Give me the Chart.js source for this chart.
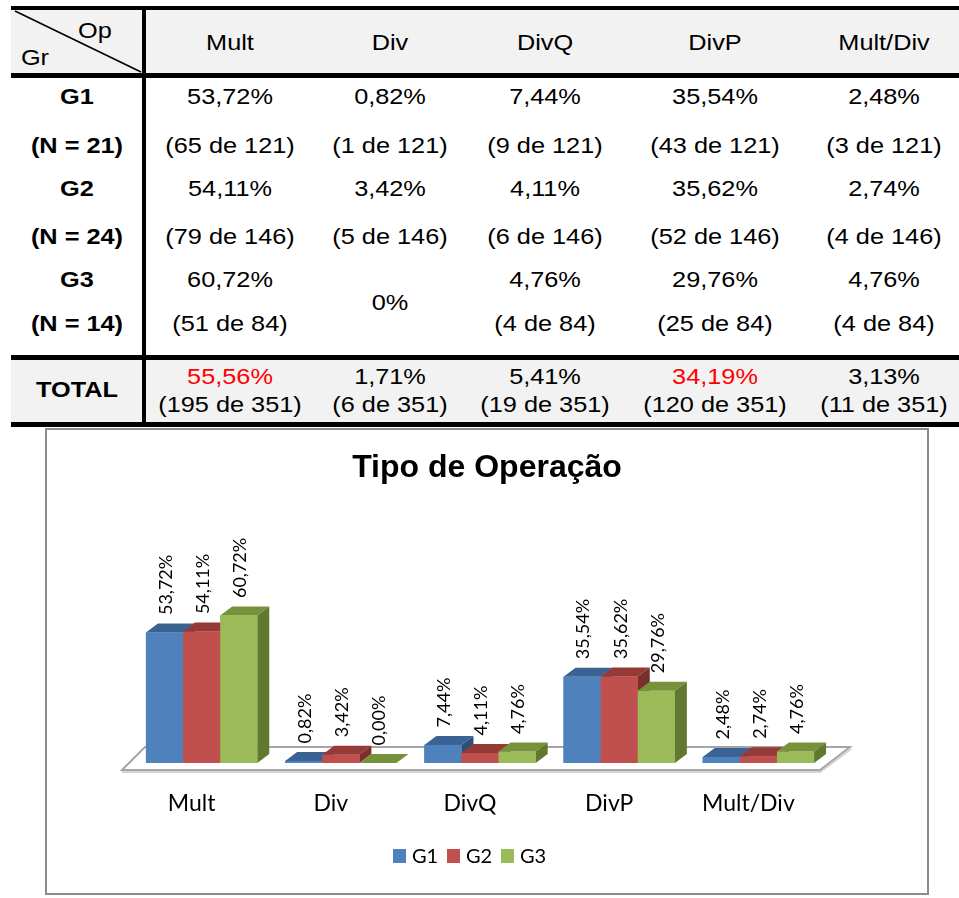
<!DOCTYPE html>
<html lang="pt">
<head>
<meta charset="utf-8">
<title>Tipo de Operação</title>
<script src="https://cdn.jsdelivr.net/npm/chart.js@4.4.1/dist/chart.umd.min.js"></script>
<style>
  html, body { margin: 0; padding: 0; background: #fff; }
  body { position: relative; width: 959px; height: 898px; overflow: hidden;
         font-family: "Liberation Sans", Arial, sans-serif; color: #000; }
  .rule { position: absolute; background: #000; }
  .band { position: absolute; background: #f2f2f2; }
  .cell { position: absolute; white-space: nowrap; font-size: 22px; line-height: 22px;
          transform: translate(-50%, -50%) scaleX(1.15); }
  .cell.b { font-weight: bold; }
  .cell.red { color: #ff0000; }
  #frame { position: absolute; left: 45px; top: 428px; width: 880px; height: 463px;
           border: 2px solid #8c8c8c; background: #fff; }
  #chart { display: block; }
  #diag { position: absolute; left: 0; top: 0; }
</style>
</head>
<body>
<div id="table"></div>
<div id="frame"><canvas id="chart" width="880" height="463"></canvas></div>
<script>
// Operation types and groups
const categories = ['Mult', 'Div', 'DivQ', 'DivP', 'Mult/Div'];
const groups = ['G1', 'G2', 'G3'];
const groupSizes = [21, 24, 14];

// Percentages per group (%)
const pctG1 = [53.72, 0.82, 7.44, 35.54, 2.48];
const pctG2 = [54.11, 3.42, 4.11, 35.62, 2.74];
const pctG3 = [60.72, 0.00, 4.76, 29.76, 4.76];

// Absolute counts per group and the number of answers in each group
const countG1 = [65, 1, 9, 43, 3];
const countG2 = [79, 5, 6, 52, 4];
const countG3 = [51, 0, 4, 25, 4];
const answersPerGroup = [121, 146, 84];

// Totals over all groups
const pctTotal = [55.56, 1.71, 5.41, 34.19, 3.13];
const countTotal = [195, 6, 19, 120, 11];
const answersTotal = 351;
const highlightedTotals = ['Mult', 'DivP'];

const pctSeries = [pctG1, pctG2, pctG3];
const countSeries = [countG1, countG2, countG3];

const fmtPct = v => v.toFixed(2).replace('.', ',') + '%';

/* ---------- summary table ---------- */
const tableEl = document.getElementById('table');
function box(cls, x, y, w, h) {
  const d = document.createElement('div');
  d.className = cls;
  Object.assign(d.style, { left: x + 'px', top: y + 'px', width: w + 'px', height: h + 'px' });
  tableEl.appendChild(d);
}
function cell(text, x, y, extra) {
  const d = document.createElement('div');
  d.className = 'cell' + (extra ? ' ' + extra : '');
  d.textContent = text;
  d.style.left = x + 'px';
  d.style.top = y + 'px';
  tableEl.appendChild(d);
}

const T_LEFT = 11, T_RIGHT = 959;
const colX = [230, 390, 545, 715, 884];
const firstColX = 77;
const rowLines = [[97, 146], [189, 237], [280, 324]];

box('band', T_LEFT, 10, T_RIGHT - T_LEFT, 63);
box('band', T_LEFT, 360, T_RIGHT - T_LEFT, 62);
box('rule', T_LEFT, 6, T_RIGHT - T_LEFT, 4);
box('rule', T_LEFT, 73, T_RIGHT - T_LEFT, 5);
box('rule', T_LEFT, 355, T_RIGHT - T_LEFT, 5);
box('rule', T_LEFT, 422, T_RIGHT - T_LEFT, 5);
box('rule', 142, 6, 4, 421);

const svgNS = 'http://www.w3.org/2000/svg';
const svg = document.createElementNS(svgNS, 'svg');
svg.setAttribute('id', 'diag');
svg.setAttribute('width', '160');
svg.setAttribute('height', '80');
const ln = document.createElementNS(svgNS, 'line');
ln.setAttribute('x1', '15'); ln.setAttribute('y1', '11');
ln.setAttribute('x2', '141'); ln.setAttribute('y2', '72');
ln.setAttribute('stroke', '#000'); ln.setAttribute('stroke-width', '1.6');
svg.appendChild(ln);
tableEl.appendChild(svg);

cell('Op', 95, 31);
cell('Gr', 35, 58);
categories.forEach((c, i) => cell(c, colX[i], 43));

groups.forEach((g, gi) => {
  const [y1, y2] = rowLines[gi];
  cell(g, firstColX, y1, 'b');
  cell('(N = ' + groupSizes[gi] + ')', firstColX, y2, 'b');
  categories.forEach((c, ci) => {
    const cnt = countSeries[gi][ci];
    if (cnt === 0) {
      cell('0%', colX[ci], (y1 + y2) / 2 + 1);
    } else {
      cell(fmtPct(pctSeries[gi][ci]), colX[ci], y1);
      cell('(' + cnt + ' de ' + answersPerGroup[gi] + ')', colX[ci], y2);
    }
  });
});

cell('TOTAL', firstColX, 390, 'b');
categories.forEach((c, ci) => {
  const red = highlightedTotals.includes(c) ? 'red' : '';
  cell(fmtPct(pctTotal[ci]), colX[ci], 377, red);
  cell('(' + countTotal[ci] + ' de ' + answersTotal + ')', colX[ci], 405);
});

/* ---------- 3D-style grouped bar chart ---------- */
const FRONT = ['#4F81BD', '#C0504D', '#9BBB59'];
const TOPF  = ['#3A6394', '#953A37', '#76933C'];
const SIDE  = ['#2E4F78', '#7B2F2D', '#61792F'];
const DX = 12, DY = -9;

function poly(ctx, pts, color) {
  ctx.beginPath();
  ctx.moveTo(pts[0][0], pts[0][1]);
  for (let i = 1; i < pts.length; i++) ctx.lineTo(pts[i][0], pts[i][1]);
  ctx.closePath();
  ctx.fillStyle = color;
  ctx.fill();
}

const threeD = {
  id: 'threeD',
  beforeDatasetsDraw(chart) {
    const { ctx, chartArea: { left, right } } = chart;
    const base = chart.scales.y.getPixelForValue(0);
    const floor = [[left - 10, base + 7], [left + 13, base - 16], [right + 22, base - 16], [right - 8, base + 7]];
    ctx.save();
    // slab thickness under the front and right edges
    ctx.beginPath();
    ctx.moveTo(floor[0][0], floor[0][1] + 2);
    ctx.lineTo(floor[3][0], floor[3][1] + 2);
    ctx.lineTo(floor[2][0] + 1, floor[2][1] + 2);
    ctx.strokeStyle = '#d4d4d4';
    ctx.lineWidth = 2;
    ctx.stroke();
    ctx.beginPath();
    floor.forEach((p, i) => i ? ctx.lineTo(p[0], p[1]) : ctx.moveTo(p[0], p[1]));
    ctx.closePath();
    ctx.fillStyle = '#ffffff';
    ctx.fill();
    ctx.strokeStyle = '#a6a6a6';
    ctx.lineWidth = 2;
    ctx.stroke();
    ctx.restore();
  },
  afterDatasetsDraw(chart) {
    const ctx = chart.ctx;
    const n = chart.data.labels.length;
    const metas = chart.data.datasets.map((_, d) => chart.getDatasetMeta(d));
    ctx.save();
    // painter's order: left to right inside each category
    for (let i = 0; i < n; i++) {
      metas.forEach((meta, d) => {
        const el = meta.data[i];
        const { x, y, base, width } = el.getProps(['x', 'y', 'base', 'width'], true);
        const l = x - width / 2, r = x + width / 2;
        poly(ctx, [[l, y], [l + DX, y + DY], [r + DX, y + DY], [r, y]], TOPF[d]);
        poly(ctx, [[r, y], [r + DX, y + DY], [r + DX, base + DY], [r, base]], SIDE[d]);
        ctx.fillStyle = FRONT[d];
        ctx.fillRect(l, y, width, base - y);
      });
    }
    // rotated value labels
    ctx.fillStyle = '#000';
    ctx.font = '18px Lato';
    ctx.textAlign = 'left';
    ctx.textBaseline = 'middle';
    metas.forEach((meta, d) => {
      meta.data.forEach((el, i) => {
        const { x, y } = el.getProps(['x', 'y'], true);
        ctx.save();
        ctx.translate(x + 1.5, y - 17.5);
        ctx.rotate(-Math.PI / 2);
        ctx.fillText(fmtPct(chart.data.datasets[d].data[i]), 0, 0);
        ctx.restore();
      });
    });
    ctx.restore();
  },
  // legend row: square swatch, short gap, series name
  afterDraw(chart) {
    const ctx = chart.ctx;
    const sw = 13, gap = 6, itemGap = 9;
    ctx.save();
    ctx.font = '20px Lato';
    ctx.textBaseline = 'middle';
    ctx.textAlign = 'left';
    const items = chart.data.datasets.map(ds => ({ label: ds.label, color: ds.backgroundColor, w: ctx.measureText(ds.label).width }));
    const total = items.reduce((s, it) => s + sw + gap + it.w, 0) + itemGap * (items.length - 1);
    let x = Math.round(chart.width / 2 - 17 - total / 2);
    const cy = 426;
    items.forEach(it => {
      ctx.fillStyle = it.color;
      ctx.fillRect(x, cy - 7, sw, 14);
      ctx.fillStyle = '#000';
      ctx.fillText(it.label, x + sw + gap, cy + 1);
      x += Math.round(sw + gap + it.w + itemGap);
    });
    ctx.restore();
  }
};

function build() {
  new Chart(document.getElementById('chart'), {
    type: 'bar',
    data: {
      labels: categories,
      datasets: groups.map((g, i) => ({
        label: g,
        data: pctSeries[i],
        backgroundColor: FRONT[i],
        borderWidth: 0,
        categoryPercentage: 0.8,
        barPercentage: 1,
        yAxisID: 'y'
      }))
    },
    options: {
      responsive: false,
      animation: false,
      devicePixelRatio: 1,
      layout: { padding: { left: 0, right: 0, top: 0, bottom: 56.5 } },
      scales: {
        x: {
          grid: { display: false },
          border: { display: false },
          ticks: { color: '#000', font: { family: 'Lato', size: 23 }, padding: 19, labelOffset: -10 },
          afterFit(a) { a.height = 73.5; }
        },
        y: {
          min: 0, max: 70,
          ticks: { display: false },
          grid: { display: false },
          border: { display: false },
          afterFit(a) { a.width = 85; }
        },
        y2: {
          position: 'right',
          min: 0, max: 70,
          ticks: { display: false },
          grid: { display: false },
          border: { display: false },
          afterFit(a) { a.width = 99; }
        }
      },
      plugins: {
        title: {
          display: true,
          text: 'Tipo de Operação',
          color: '#000',
          font: { family: 'Liberation Sans', size: 32, weight: 'bold' },
          padding: { top: 18.8, bottom: 105.8 }
        },
        legend: { display: false },
        tooltip: { enabled: false }
      }
    },
    plugins: [threeD]
  });
}

Promise.all([
  document.fonts.load('18px Lato'),
  document.fonts.load('20px Lato'),
  document.fonts.load('23px Lato'),
  document.fonts.load('bold 32px "Liberation Sans"')
]).then(build, build);
</script>
</body>
</html>
